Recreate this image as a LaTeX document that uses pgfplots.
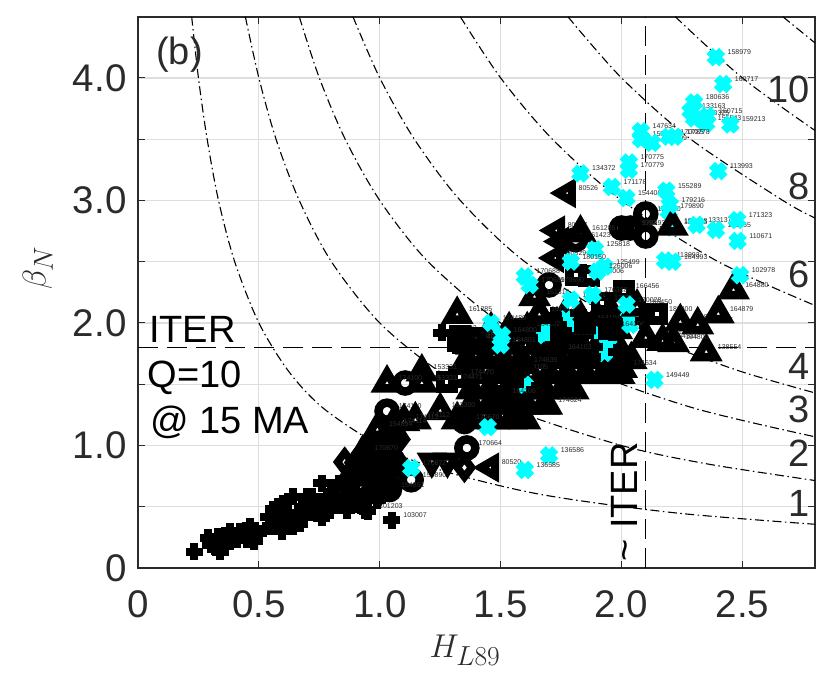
\documentclass[border=0pt]{standalone}
\usepackage{fontspec}
\setmainfont{Liberation Sans}
\usepackage{pgfplots}
\pgfplotsset{compat=1.18}

\definecolor{txt}{HTML}{2B2B2B}
\definecolor{gridc}{HTML}{DEDEDE}
\definecolor{cyanx}{HTML}{00FFFF}

% heavy open markers
\pgfplotsset{
  blk/.style={only marks, black, mark options={solid, draw=black, line width=#1}},
  tri/.style={blk=8.5bp, mark=triangle, mark size=10.5bp},
  circ/.style={blk=8.5bp, mark=o, mark size=8.5bp},
  sq/.style={blk=9bp, mark=square, mark size=6.5bp},
  dia/.style={blk=7.5bp, mark=diamond, mark size=9.5bp},
  lft/.style={only marks, black, mark=triangle, mark size=9.5bp,
    mark options={solid, draw=black, line width=8bp, rotate=90}},
  dwn/.style={only marks, black, mark=triangle, mark size=9.5bp,
    mark options={solid, draw=black, line width=8bp, rotate=180}},
  pls/.style={blk=8bp, mark=+, mark size=8.5bp},
  cyn/.style={only marks, cyanx, mark=x, mark size=8.8bp,
    mark options={solid, draw=cyanx, line width=8.5bp}},
  lab/.style={point meta=explicit symbolic, nodes near coords={\pgfplotspointmeta},
    every node near coord/.append style={anchor=west, inner sep=0pt, xshift=7.5bp,
      yshift=5bp, text=txt, font=\fontsize{7bp}{7bp}\selectfont}},
  gcurve/.style={no marks, black, line width=1.1bp, smooth,
    dash pattern=on 9bp off 3.5bp on 1.5bp off 3.5bp},
}
\tikzset{big/.style={inner sep=0pt, font=\fontsize{38bp}{40bp}\selectfont}}

\begin{document}
\begin{tikzpicture}
\path[use as bounding box] (-138bp,-115bp) rectangle (692bp,568bp);
\begin{axis}[
  scale only axis, width=677bp, height=551.3bp,
  xmin=0, xmax=2.8, ymin=0, ymax=4.5,
  xtick={0,0.5,1,1.5,2,2.5}, xticklabels={0,0.5,1.0,1.5,2.0,2.5},
  ytick={0,0.5,1,1.5,2,2.5,3,3.5,4}, yticklabels={0,,1.0,,2.0,,3.0,,4.0},
  grid=major, grid style={gridc, line width=1.2bp},
  tick align=inside, major tick length=7bp,
  tick style={draw=txt, line width=1bp},
  axis line style={draw=txt, line width=1.6bp},
  /pgf/number format/assume math mode=true,
  tick label style={text=txt, font=\fontsize{38.5bp}{40bp}\selectfont},
  xticklabel style={yshift=-19bp},
  yticklabel style={xshift=-8bp},
  xlabel={$H_{L89}$}, ylabel={$\beta_N$},
  label style={text=txt, scale=1.33, font=\fontsize{24.88pt}{26pt}\selectfont},
  xlabel style={at={(axis description cs:0.483,-0.149)}, anchor=center},
  ylabel style={at={(axis description cs:-0.148,0.544)}, anchor=center},
]

% constant beta*H curves, G = 1 2 3 4 6 8 10 12
\addplot[gcurve] coordinates {(0.222,4.5)(0.25,4)(0.286,3.5)(0.333,3)(0.4,2.5)(0.5,2)(0.625,1.6)(0.769,1.3)(1,1)(1.25,0.8)(1.667,0.6)(2.222,0.45)(2.8,0.357)};
\addplot[gcurve] coordinates {(0.444,4.5)(0.5,4)(0.571,3.5)(0.667,3)(0.8,2.5)(1,2)(1.25,1.6)(1.538,1.3)(2,1)(2.353,0.85)(2.8,0.714)};
\addplot[gcurve] coordinates {(0.667,4.5)(0.75,4)(0.857,3.5)(1,3)(1.2,2.5)(1.5,2)(1.875,1.6)(2.308,1.3)(2.8,1.071)};
\addplot[gcurve] coordinates {(0.889,4.5)(1,4)(1.143,3.5)(1.333,3)(1.6,2.5)(2,2)(2.222,1.8)(2.5,1.6)(2.8,1.429)};
\addplot[gcurve] coordinates {(1.333,4.5)(1.5,4)(1.714,3.5)(2,3)(2.4,2.5)(2.8,2.143)};
\addplot[gcurve] coordinates {(1.778,4.5)(2,4)(2.286,3.5)(2.667,3)(2.8,2.857)};
\addplot[gcurve] coordinates {(2.222,4.5)(2.5,4)(2.8,3.571)};
\addplot[gcurve] coordinates {(2.667,4.5)(2.8,4.286)};

% ITER reference lines
\addplot[no marks, black, line width=1.1bp, dash pattern=on 20bp off 9bp] coordinates {(0,1.8)(2.8,1.8)};
\addplot[no marks, black, line width=1.1bp, dash pattern=on 20bp off 9bp] coordinates {(2.1,0)(2.1,4.5)};

% low beta plus markers
\addplot[pls] coordinates {(0.233,0.133)(0.29,0.245)(0.33,0.255)(0.32,0.175)(0.37,0.23)(0.34,0.133)
  (0.42,0.30)(0.464,0.34)(0.45,0.23)(0.497,0.285)(0.58,0.50)(0.64,0.58)(0.587,0.39)(0.62,0.45)
  (0.595,0.30)(0.64,0.34)(0.684,0.42)(0.76,0.41)(0.733,0.53)(0.76,0.69)(0.795,0.47)(0.864,0.47)
  (0.94,0.47)(0.83,0.69)(0.546,0.34)(0.78,0.58)(0.877,0.58)(0.93,0.58)(0.99,0.555)
  (0.54,0.42)(0.60,0.47)(0.68,0.50)(0.72,0.45)(0.82,0.53)(0.70,0.58)(0.38,0.30)(0.41,0.23)
  (0.30,0.19)(0.36,0.18)(0.44,0.29)(0.48,0.22)(0.56,0.48)(0.62,0.38)(0.66,0.44)(0.60,0.53)(0.67,0.36)
  (0.72,0.58)(0.80,0.62)(0.85,0.54)(0.91,0.52)(0.78,0.51)};
\addplot[pls, lab] table[meta=id] {
x y id
1.05 0.39 103007
0.95 0.465 101203
1.257 1.92 174523
};

% diamonds
\addplot[dia] coordinates {(0.855,0.865)(0.93,0.94)(0.96,0.82)(1.0,0.88)(0.90,0.74)(0.98,0.70)
  (1.03,0.79)(1.05,0.93)(0.86,0.70)(1.08,0.85)(1.02,1.0)(0.96,1.03)(1.08,1.05)(0.93,0.78)(1.35,0.82)
  (0.90,0.86)(0.99,0.96)(1.04,0.70)(0.95,0.60)(1.0,0.62)(0.88,0.63)};
\addplot[pls] coordinates {(0.93,0.94)(0.96,0.82)(1.0,0.88)(0.90,0.74)(0.98,0.70)(1.03,0.79)(1.05,0.93)
  (0.86,0.70)(1.08,0.85)(1.02,1.0)(0.96,1.03)(1.08,1.05)(0.93,0.78)(0.90,0.86)(0.99,0.96)(1.04,0.70)
  (0.95,0.60)(1.0,0.62)(0.88,0.63)};

% dense cluster fill
\addplot[tri] coordinates {
  (1.76,2.04)(1.83,2.04)(1.90,2.04)(1.97,2.04)
  (1.46,1.945)(1.535,1.945)(1.61,1.945)(1.685,1.945)(1.76,1.945)(1.835,1.945)(1.91,1.945)(1.98,1.945)
  (1.38,1.82)(1.455,1.82)(1.53,1.82)(1.605,1.82)(1.68,1.82)(1.755,1.82)(1.83,1.82)(1.905,1.82)(1.98,1.82)
  (1.36,1.70)(1.435,1.70)(1.51,1.70)(1.585,1.70)(1.66,1.70)(1.735,1.70)(1.81,1.70)(1.885,1.70)(1.96,1.70)(2.04,1.70)
  (1.40,1.58)(1.475,1.58)(1.55,1.58)(1.625,1.58)(1.70,1.58)(1.775,1.58)(1.85,1.58)(1.925,1.58)(1.99,1.58)
  (1.38,1.454)(1.455,1.454)(1.53,1.454)(1.605,1.454)(1.68,1.454)(1.755,1.454)(1.80,1.454)
  (1.38,1.33)(1.455,1.33)(1.53,1.33)(1.605,1.33)(1.68,1.33)
  (1.32,1.21)(1.395,1.21)(1.47,1.21)(1.545,1.21)(1.60,1.21)};
\addplot[pls] coordinates {
  (1.76,2.04)(1.83,2.04)(1.90,2.04)(1.97,2.04)
  (1.46,1.945)(1.535,1.945)(1.61,1.945)(1.685,1.945)(1.76,1.945)(1.835,1.945)(1.91,1.945)(1.98,1.945)
  (1.38,1.82)(1.455,1.82)(1.53,1.82)(1.68,1.82)(1.755,1.82)(1.83,1.82)(1.905,1.82)(1.98,1.82)
  (1.36,1.70)(1.435,1.70)(1.51,1.70)(1.585,1.70)(1.66,1.70)(1.81,1.70)(1.885,1.70)(1.96,1.70)(2.04,1.70)
  (1.40,1.58)(1.475,1.58)(1.55,1.58)(1.70,1.58)(1.775,1.58)(1.85,1.58)(1.925,1.58)(1.99,1.58)
  (1.38,1.454)(1.455,1.454)(1.53,1.454)(1.605,1.454)(1.68,1.454)(1.755,1.454)(1.80,1.454)
  (1.38,1.33)(1.455,1.33)(1.53,1.33)(1.605,1.33)(1.68,1.33)
  (1.32,1.21)(1.395,1.21)(1.47,1.21)(1.545,1.21)(1.60,1.21)};

% cyan points buried in the cluster
\addplot[cyn] coordinates {(1.69,1.96)(1.68,1.90)(1.77,2.03)(1.815,1.93)(1.91,1.90)(1.945,1.82)
  (1.93,1.755)(2.03,2.04)(2.036,1.985)(1.60,1.495)(1.447,1.15)};
\addplot[cyn, lab] table[meta=id] {
x y id
2.21 2.78 159555
2.195 2.91 179890
};
% black points over those cyan ones
\addplot[pls] coordinates {(1.74,1.98)(1.74,1.90)(1.63,1.96)(1.62,1.88)(1.81,1.86)(1.86,1.98)(1.85,1.90)
  (1.96,1.92)(1.89,1.80)(1.98,1.76)(1.88,1.72)(1.97,2.01)(2.09,2.02)(1.72,2.06)(1.82,2.08)(1.56,1.50)(1.64,1.45)};

% squares
\addplot[sq, lab] table[meta=id] {
x y id
2.01 2.26 166456
2.147 2.07 183400
1.864 2.38 126006
1.81 2.39 125049
1.92 2.16 176388
1.326 1.56 174470
1.28 1.52 174471
1.345 1.84 153400
1.325 1.85 153401
1.33 1.89 153402
1.395 1.88 153403
1.75 1.88 164100
1.85 2.00 164101
1.60 1.95 164102
1.73 1.76 164103
1.95 1.95 164104
1.55 1.60 164105
1.50 1.40 164106
};

% circles
\addplot[circ, lab] table[meta=id] {
x y id
2.10 2.89 178990
2.10 2.71 178991
2.00 2.775 178992
2.036 2.775 178993
1.81 2.68 161423
1.70 2.31 170690
1.03 1.28 174110
1.36 0.98 170664
1.35 1.195 170670
1.13 0.72 154890
1.105 1.51 153320
1.04 0.64 154891
};

% left and down pointing triangles
\addplot[lft, lab] table[meta=id] {
x y id
1.775 3.06 80526
1.73 2.755 80527
1.747 2.665 80528
1.726 2.53 80529
1.457 0.82 80520
};
\addplot[dwn] coordinates {(1.215,0.87)(1.28,0.87)(1.54,1.32)(1.595,1.28)};

% labelled upward triangles
\addplot[tri, lab] table[meta=id] {
x y id
2.35 1.765 138554
2.243 2.01 164878
2.315 1.985 164877
2.40 2.075 164879
2.463 2.27 164880
2.10 1.88 164330
2.17 1.85 164331
2.215 1.84 164800
2.21 2.79 133178
1.83 2.735 161285
1.64 2.215 161310
1.66 2.07 161314
1.32 2.07 161285
1.174 1.51 153331
1.174 1.60 153331
1.03 1.51 174100
1.25 1.285 153300
1.147 1.21 174112
1.10 1.195 174113
1.05 1.155 174114
0.99 1.13 154894
0.93 0.94 170670
2.00 1.63 174634
1.59 1.66 174635
1.69 1.33 174624
2.064 2.13 166450
};

% cyan points in the open
\addplot[cyn, lab] table[meta=id] {
x y id
2.39 4.17 158979
2.42 3.95 160717
2.30 3.80 180636
2.285 3.73 133163
2.30 3.67 170325
2.35 3.63 155543
2.355 3.69 160715
2.45 3.62 159213
2.08 3.565 147634
2.08 3.50 155269
2.126 3.47 141009
2.195 3.52 170785
2.22 3.52 170778
2.03 3.31 170775
2.03 3.25 170779
1.83 3.22 134372
1.96 3.11 171178
2.02 3.02 154406
2.185 3.08 155289
2.20 2.965 179216
2.31 2.80 133137
2.39 2.76 131265
2.478 2.84 171323
2.48 2.67 110671
2.40 3.24 113993
2.18 2.51 113993
2.21 2.50 164993
2.49 2.39 102978
1.60 2.38 170688
1.62 2.31 170689
1.89 2.60 125818
1.93 2.46 125499
1.90 2.42 126006
1.79 2.50 180150
1.79 2.19 177001
1.88 2.23 176388
2.02 2.15 170028
1.46 2.00 174480
1.505 1.90 164800
1.50 1.82 164801
1.70 0.92 136586
1.60 0.80 136585
2.136 1.535 149449
1.13 0.815 170672
};

\node[big, anchor=base west, text=txt] at (axis cs:0.075,4.11) {(b)};
\node[big, anchor=base west, text=black] at (axis cs:0.045,1.838) {ITER};
\node[big, anchor=base west, text=black] at (axis cs:0.04,1.47) {Q=10};
\node[big, anchor=base west, text=black] at (axis cs:0.05,1.10) {@ 15 MA};
\node[big, anchor=base west, text=black, rotate=90] at (axis cs:2.065,0.05) {\textasciitilde\ ITER};
\node[big, anchor=base east, text=txt] at (axis cs:2.78,3.80) {10};
\node[big, anchor=base east, text=txt] at (axis cs:2.78,3.007) {8};
\node[big, anchor=base east, text=txt] at (axis cs:2.78,2.288) {6};
\node[big, anchor=base east, text=txt] at (axis cs:2.78,1.536) {4};
\node[big, anchor=base east, text=txt] at (axis cs:2.78,1.185) {3};
\node[big, anchor=base east, text=txt] at (axis cs:2.78,0.825) {2};
\node[big, anchor=base east, text=txt] at (axis cs:2.78,0.417) {1};
\end{axis}
\end{tikzpicture}
\end{document}
